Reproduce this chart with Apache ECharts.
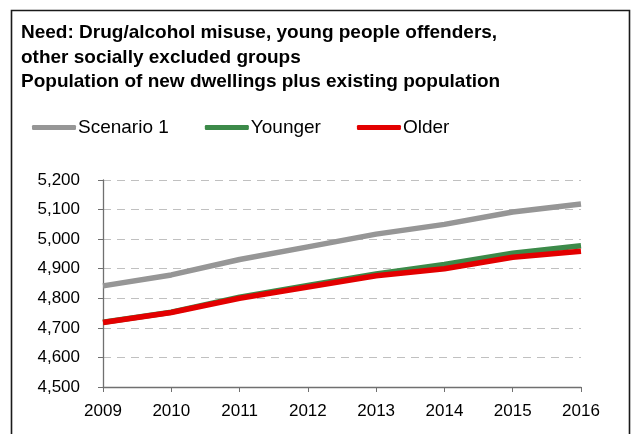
<!DOCTYPE html>
<html>
<head>
<meta charset="utf-8">
<script src="https://cdn.jsdelivr.net/npm/echarts@6/dist/echarts.min.js"></script>
<style>
  html, body { margin: 0; padding: 0; background: #fff; }
  #chart { width: 633px; height: 434px; }
</style>
</head>
<body>
<div id="chart"></div>
<script>
// Years along the horizontal axis
var years = ['2009', '2010', '2011', '2012', '2013', '2014', '2015', '2016'];

// Population projections per scenario
var scenario1 = [4842, 4879, 4931, 4974, 5017, 5050, 5092, 5119];
var younger   = [4719, 4753, 4804, 4843, 4882, 4914, 4952, 4978];
var older     = [4718, 4752, 4800, 4838, 4876, 4900, 4939, 4959];

var seriesNames = ['Scenario 1', 'Younger', 'Older'];
var seriesColors = ['#969696', '#3c8a49', '#e30000'];

var titleLines = [
  'Need: Drug/alcohol misuse, young people offenders,',
  'other socially excluded groups',
  'Population of new dwellings plus existing population'
];

var chart = echarts.init(document.getElementById('chart'), null, { renderer: 'canvas' });

function fmt(v) {
  return String(v).replace(/\B(?=(\d{3})+(?!\d))/g, ',');
}

var data = [scenario1, younger, older];
var FONT = 'Liberation Sans, Arial, sans-serif';

chart.setOption({
  animation: false,
  backgroundColor: '#ffffff',
  textStyle: { fontFamily: FONT },
  graphic: [{
    type: 'rect',
    shape: { x: 11.5, y: 10.5, width: 618, height: 440 },
    style: { fill: 'none', stroke: '#1a1a1a', lineWidth: 1.6 },
    silent: true
  }],
  title: {
    text: titleLines.join('\n'),
    left: 21,
    top: 21,
    padding: 0,
    textStyle: {
      fontFamily: FONT,
      fontWeight: 'bold',
      fontSize: 19,
      lineHeight: 24.5,
      color: '#000'
    }
  },
  legend: {
    left: 32,
    top: 118,
    padding: 0,
    itemWidth: 44,
    itemHeight: 5,
    itemGap: 36,
    icon: 'roundRect',
    textStyle: { fontFamily: FONT, fontSize: 19, color: '#000', padding: [0, 0, 0, -3] },
    data: seriesNames
  },
  grid: { left: 103, right: 52, top: 180, bottom: 47 },
  xAxis: {
    type: 'category',
    data: years,
    boundaryGap: false,
    axisLine: { lineStyle: { color: '#707070', width: 1.3 } },
    axisTick: { show: true, alignWithLabel: true, length: 5, lineStyle: { color: '#707070' } },
    axisLabel: { color: '#000', fontSize: 17, margin: 16 }
  },
  yAxis: {
    type: 'value',
    min: 4500,
    max: 5200,
    interval: 100,
    axisLine: { show: true, lineStyle: { color: '#707070', width: 1.3 } },
    axisTick: { show: true, length: 5, lineStyle: { color: '#707070' } },
    axisLabel: { color: '#000', fontSize: 17, margin: 23, formatter: fmt },
    splitLine: { show: true, lineStyle: { color: '#c0c0c0', type: [8, 6], width: 1 } }
  },
  series: seriesNames.map(function (name, i) {
    return {
      name: name,
      type: 'line',
      data: data[i],
      symbol: 'none',
      color: seriesColors[i],
      lineStyle: { width: 5.5, color: seriesColors[i] }
    };
  })
});
</script>
</body>
</html>
